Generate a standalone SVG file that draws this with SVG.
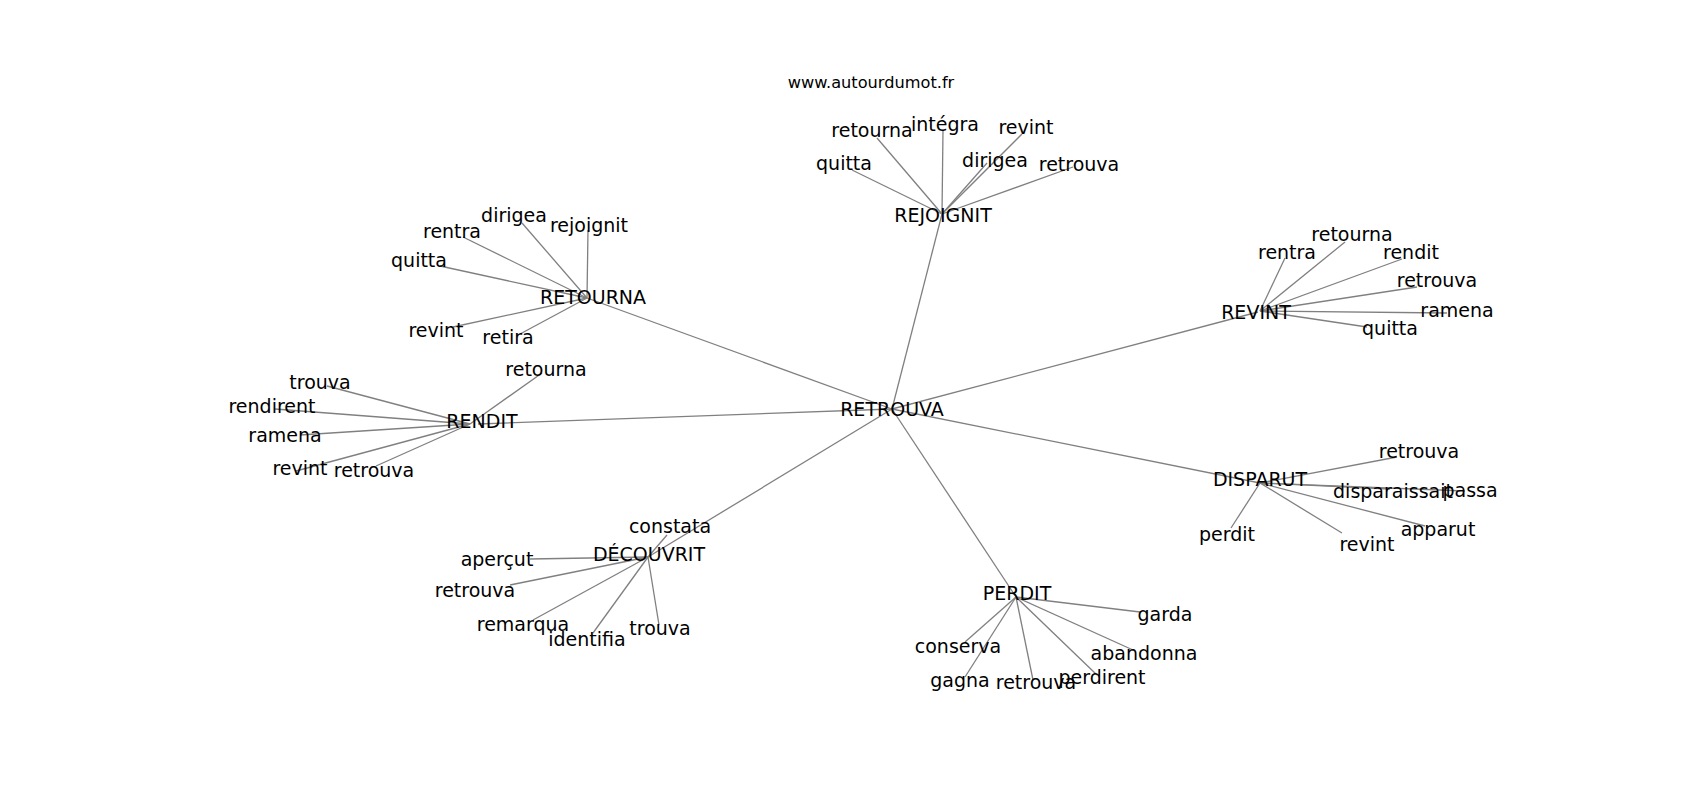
<svg xmlns="http://www.w3.org/2000/svg" width="1700" height="800" viewBox="0 0 1700 800">
<style>
text{font-family:"DejaVu Sans","Liberation Sans",sans-serif;font-size:19px;fill:#000;text-anchor:middle}
.title{font-size:16.2px}
#edges line{stroke:#808080;stroke-width:1.3;fill:none}
</style>
<rect width="1700" height="800" fill="#fff"/>
<text class="title" x="871" y="88">www.autourdumot.fr</text>
<g id="edges">
<line x1="892" y1="409" x2="942" y2="214"/>
<line x1="892" y1="409" x2="587" y2="298"/>
<line x1="892" y1="409" x2="478" y2="424"/>
<line x1="892" y1="409" x2="648" y2="557"/>
<line x1="892" y1="409" x2="1016" y2="597"/>
<line x1="892" y1="409" x2="1260" y2="483"/>
<line x1="892" y1="409" x2="1258" y2="312"/>
<line x1="942" y1="214" x2="877" y2="138"/>
<line x1="942" y1="214" x2="943" y2="130"/>
<line x1="942" y1="214" x2="1022" y2="134"/>
<line x1="942" y1="214" x2="852" y2="170"/>
<line x1="942" y1="214" x2="987" y2="163"/>
<line x1="942" y1="214" x2="1073" y2="167"/>
<line x1="587" y1="298" x2="522" y2="223"/>
<line x1="587" y1="298" x2="588" y2="230"/>
<line x1="587" y1="298" x2="463" y2="237"/>
<line x1="587" y1="298" x2="440" y2="266"/>
<line x1="587" y1="298" x2="453" y2="327"/>
<line x1="587" y1="298" x2="520" y2="334"/>
<line x1="470" y1="424" x2="542" y2="373"/>
<line x1="470" y1="424" x2="327" y2="386"/>
<line x1="470" y1="424" x2="275" y2="409"/>
<line x1="470" y1="424" x2="300" y2="435"/>
<line x1="470" y1="424" x2="296" y2="471"/>
<line x1="470" y1="424" x2="376" y2="466"/>
<line x1="648" y1="557" x2="667" y2="535"/>
<line x1="648" y1="557" x2="530" y2="559"/>
<line x1="648" y1="557" x2="510" y2="585"/>
<line x1="648" y1="557" x2="533" y2="620"/>
<line x1="648" y1="557" x2="593" y2="633"/>
<line x1="648" y1="557" x2="659" y2="625"/>
<line x1="1016" y1="597" x2="1140" y2="612"/>
<line x1="1016" y1="597" x2="965" y2="642"/>
<line x1="1016" y1="597" x2="965" y2="677"/>
<line x1="1016" y1="597" x2="1033" y2="680"/>
<line x1="1016" y1="597" x2="1097" y2="675"/>
<line x1="1016" y1="597" x2="1133" y2="650"/>
<line x1="1260" y1="483" x2="1397" y2="457"/>
<line x1="1260" y1="483" x2="1390" y2="489"/>
<line x1="1260" y1="483" x2="1465" y2="491"/>
<line x1="1260" y1="483" x2="1231" y2="528"/>
<line x1="1260" y1="483" x2="1342" y2="533"/>
<line x1="1260" y1="483" x2="1425" y2="526"/>
<line x1="1260" y1="311" x2="1345" y2="242"/>
<line x1="1260" y1="311" x2="1285" y2="258"/>
<line x1="1260" y1="311" x2="1402" y2="259"/>
<line x1="1260" y1="311" x2="1417" y2="287"/>
<line x1="1260" y1="311" x2="1447" y2="313"/>
<line x1="1260" y1="311" x2="1367" y2="327"/>
</g>
<g id="node-retrouva"><text x="892" y="416">RETROUVA</text></g>
<g id="node-rejoignit"><text x="943" y="222">REJOIGNIT</text></g>
<g id="node-retourna"><text x="593" y="304">RETOURNA</text></g>
<g id="node-rendit"><text x="482" y="428">RENDIT</text></g>
<g id="node-decouvrit"><text x="649" y="561">DÉCOUVRIT</text></g>
<g id="node-perdit"><text x="1017" y="600">PERDIT</text></g>
<g id="node-disparut"><text x="1260" y="486">DISPARUT</text></g>
<g id="node-revint"><text x="1256" y="319">REVINT</text></g>
<g id="leaf-rejoignit-retourna"><text x="872" y="137">retourna</text></g>
<g id="leaf-rejoignit-integra"><text x="945" y="131">intégra</text></g>
<g id="leaf-rejoignit-revint"><text x="1026" y="134">revint</text></g>
<g id="leaf-rejoignit-quitta"><text x="844" y="170">quitta</text></g>
<g id="leaf-rejoignit-dirigea"><text x="995" y="167">dirigea</text></g>
<g id="leaf-rejoignit-retrouva"><text x="1079" y="171">retrouva</text></g>
<g id="leaf-retourna-dirigea"><text x="514" y="222">dirigea</text></g>
<g id="leaf-retourna-rejoignit"><text x="589" y="232">rejoignit</text></g>
<g id="leaf-retourna-rentra"><text x="452" y="238">rentra</text></g>
<g id="leaf-retourna-quitta"><text x="419" y="267">quitta</text></g>
<g id="leaf-retourna-revint"><text x="436" y="337">revint</text></g>
<g id="leaf-retourna-retira"><text x="508" y="344">retira</text></g>
<g id="leaf-rendit-retourna"><text x="546" y="376">retourna</text></g>
<g id="leaf-rendit-trouva"><text x="320" y="389">trouva</text></g>
<g id="leaf-rendit-rendirent"><text x="272" y="413">rendirent</text></g>
<g id="leaf-rendit-ramena"><text x="285" y="442">ramena</text></g>
<g id="leaf-rendit-revint"><text x="300" y="475">revint</text></g>
<g id="leaf-rendit-retrouva"><text x="374" y="477">retrouva</text></g>
<g id="leaf-decouvrit-constata"><text x="670" y="533">constata</text></g>
<g id="leaf-decouvrit-apercut"><text x="497" y="566">aperçut</text></g>
<g id="leaf-decouvrit-retrouva"><text x="475" y="597">retrouva</text></g>
<g id="leaf-decouvrit-remarqua"><text x="523" y="631">remarqua</text></g>
<g id="leaf-decouvrit-identifia"><text x="587" y="646">identifia</text></g>
<g id="leaf-decouvrit-trouva"><text x="660" y="635">trouva</text></g>
<g id="leaf-perdit-garda"><text x="1165" y="621">garda</text></g>
<g id="leaf-perdit-conserva"><text x="958" y="653">conserva</text></g>
<g id="leaf-perdit-gagna"><text x="960" y="687">gagna</text></g>
<g id="leaf-perdit-retrouva"><text x="1036" y="689">retrouva</text></g>
<g id="leaf-perdit-abandonna"><text x="1144" y="660">abandonna</text></g>
<g id="leaf-perdit-perdirent"><text x="1102" y="684">perdirent</text></g>
<g id="leaf-disparut-retrouva"><text x="1419" y="458">retrouva</text></g>
<g id="leaf-disparut-disparaissait"><text x="1393" y="498">disparaissait</text></g>
<g id="leaf-disparut-passa"><text x="1470" y="497">passa</text></g>
<g id="leaf-disparut-perdit"><text x="1227" y="541">perdit</text></g>
<g id="leaf-disparut-revint"><text x="1367" y="551">revint</text></g>
<g id="leaf-disparut-apparut"><text x="1438" y="536">apparut</text></g>
<g id="leaf-revint-retourna"><text x="1352" y="241">retourna</text></g>
<g id="leaf-revint-rentra"><text x="1287" y="259">rentra</text></g>
<g id="leaf-revint-rendit"><text x="1411" y="259">rendit</text></g>
<g id="leaf-revint-retrouva"><text x="1437" y="287">retrouva</text></g>
<g id="leaf-revint-ramena"><text x="1457" y="317">ramena</text></g>
<g id="leaf-revint-quitta"><text x="1390" y="335">quitta</text></g>
</svg>
